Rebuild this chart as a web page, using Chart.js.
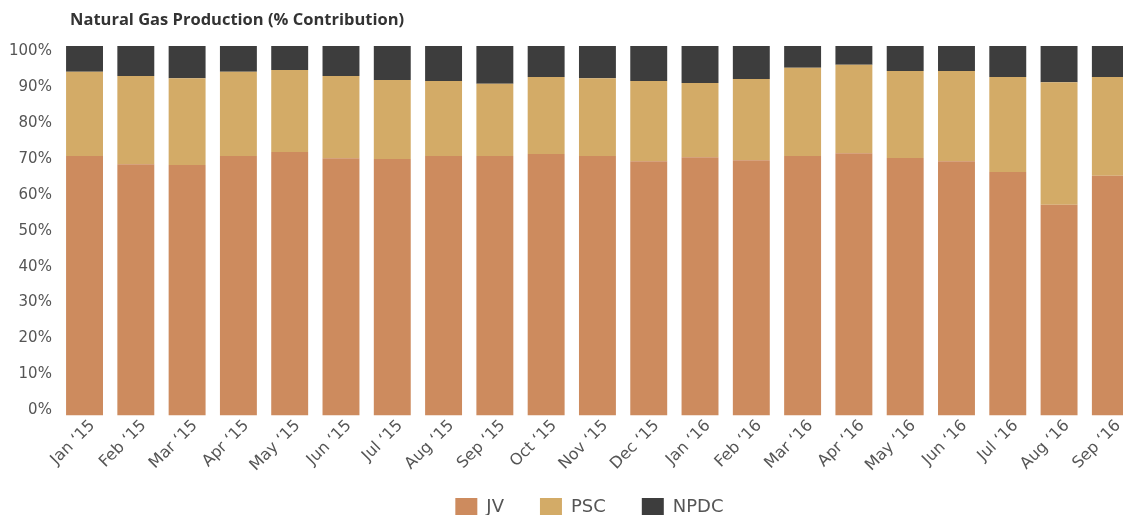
<!DOCTYPE html>
<html>
<head>
<meta charset="utf-8">
<script src="https://cdn.jsdelivr.net/npm/chart.js@4.4.1/dist/chart.umd.min.js"></script>
<style>
  html, body { margin: 0; padding: 0; background: #fff; overflow: hidden; }
  #wrap { width: 1140px; height: 540px; }
</style>
</head>
<body>
<div id="wrap"><canvas id="chart" width="1140" height="540"></canvas></div>
<script>
// Months shown on the x axis
const months = ['Jan \u201815', 'Feb \u201815', 'Mar \u201815', 'Apr \u201815', 'May \u201815', 'Jun \u201815',
    'Jul \u201815', 'Aug \u201815', 'Sep \u201815', 'Oct \u201815', 'Nov \u201815', 'Dec \u201815',
    'Jan \u201816', 'Feb \u201816', 'Mar \u201816', 'Apr \u201816', 'May \u201816', 'Jun \u201816',
    'Jul \u201816', 'Aug \u201816', 'Sep \u201816'];

// Share of production per month (%)
const jv   = [70.2, 68.0, 67.8, 70.2, 71.3, 69.6, 69.4, 70.2, 70.2, 70.8, 70.2, 68.8, 69.9, 69.1, 70.2, 71.0, 69.7, 68.8, 65.9, 57.0, 64.9];
const psc  = [22.8, 23.9, 23.5, 22.8, 22.2, 22.3, 21.4, 20.3, 19.6, 20.8, 21.1, 21.7, 20.1, 22.0, 23.9, 23.9, 23.5, 24.4, 25.7, 33.2, 26.7];
const npdc = [7.0, 8.1, 8.7, 7.0, 6.5, 8.1, 9.2, 9.5, 10.2, 8.4, 8.7, 9.5, 10.0, 8.9, 5.9, 5.1, 6.8, 6.8, 8.4, 9.8, 8.4];

const yTicks = [0, 10, 20, 30, 40, 50, 60, 70, 80, 90, 100];

const chartTitle = 'Natural Gas Production (% Contribution)';
const textColor = '#555555';
const fontFamily = '"DejaVu Sans", sans-serif';
const legendPadding = 36;

function series(label, data, color) {
    return {
        label: label,
        data: data,
        backgroundColor: color,
        borderWidth: 0,
        barPercentage: 0.72,
        categoryPercentage: 1.0,
        yAxisID: 'y'
    };
}

// Title drawn by hand so it can start a bit right of the plot edge
const titlePlugin = {
    id: 'leftTitle',
    afterDraw(chart) {
        const ctx = chart.ctx;
        ctx.save();
        ctx.fillStyle = '#333333';
        ctx.font = 'bold 16.5px "Open Sans", sans-serif';
        ctx.textAlign = 'left';
        ctx.textBaseline = 'middle';
        ctx.fillText(chartTitle, 70, 20);
        ctx.restore();
    }
};

// Pull the legend up into its own blank padding, closer to the rotated labels
const legendNudge = {
    id: 'legendNudge',
    afterLayout(chart) {
        const legend = chart.legend;
        const shift = legend.top - (498 - legendPadding);
        legend.top -= shift;
        legend.bottom -= shift;
        legend.left -= 8;
        legend.right -= 8;
    }
};

new Chart(document.getElementById('chart'), {
    type: 'bar',
    data: {
        labels: months,
        datasets: [
            series('JV', jv, '#CD8B5E'),
            series('PSC', psc, '#D3AB67'),
            series('NPDC', npdc, '#3D3D3D')
        ]
    },
    plugins: [titlePlugin, legendNudge],
    options: {
        responsive: false,
        animation: false,
        layout: { padding: { left: 2, right: 4, top: 46, bottom: 0 } },
        plugins: {
            legend: {
                position: 'bottom',
                fullSize: false,
                labels: {
                    boxWidth: 22,
                    boxHeight: 18,
                    padding: legendPadding,
                    color: textColor,
                    font: { family: fontFamily, size: 18 }
                }
            },
            tooltip: { enabled: false }
        },
        scales: {
            x: {
                stacked: true,
                grid: { display: false, drawTicks: false },
                border: { display: false },
                ticks: {
                    color: textColor,
                    font: { family: fontFamily, size: 16 },
                    minRotation: 45,
                    maxRotation: 45,
                    padding: 1,
                    labelOffset: 8
                }
            },
            y: {
                stacked: true,
                min: 0,
                max: 100,
                display: false
            },
            // visible percentage axis, labels sit slightly inside the bar span
            yt: {
                position: 'left',
                min: -1.4,
                max: 101.4,
                grid: { display: false, drawTicks: false },
                border: { display: false },
                afterBuildTicks: (axis) => {
                    axis.ticks = yTicks.map(v => ({ value: v }));
                },
                ticks: {
                    color: textColor,
                    font: { family: fontFamily, size: 15 },
                    padding: 7,
                    callback: (v) => v + '%'
                }
            }
        }
    }
});
</script>
</body>
</html>
